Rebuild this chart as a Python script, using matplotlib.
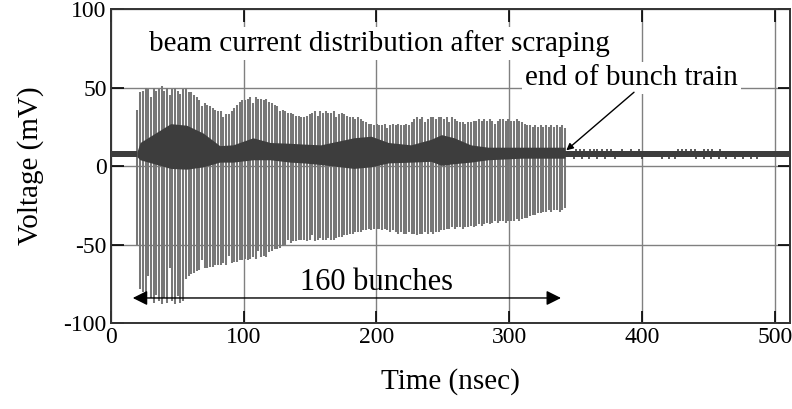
import matplotlib
matplotlib.use('Agg')
import matplotlib.pyplot as plt
import numpy as np

plt.rcParams['font.family'] = ['Liberation Serif', 'DejaVu Serif']
plt.rcParams['axes.unicode_minus'] = False

# bunch train: 160 bunches, first one at 20 ns
n_bunch = 160
t_first = 20.0
t_spacing = 2.025

# peak and trough of each bunch signal (mV)
peak = [36, 47, 48, 50, 49, 44, 50, 48, 49, 51,
        48, 50, 45, 49, 50, 48, 46, 49, 50, 47,
        47, 45, 44, 42, 38, 40, 39, 38, 37, 36,
        35, 35, 31, 33, 33, 35, 37, 39, 41, 42,
        42, 43, 44, 40, 44, 43, 43, 42, 43, 41,
        40, 39, 38, 35, 36, 35, 34, 34, 33, 32,
        32, 31, 31, 32, 33, 34, 35, 32, 35, 34,
        35, 34, 34, 35, 31, 33, 34, 33, 32, 31,
        31, 30, 31, 30, 29, 28, 27, 27, 26, 27,
        26, 26, 27, 24, 26, 27, 26, 27, 26, 26,
        27, 26, 28, 30, 31, 30, 31, 28, 30, 31,
        31, 30, 31, 31, 30, 31, 28, 31, 30, 29,
        28, 28, 27, 28, 28, 29, 29, 30, 29, 30,
        29, 30, 29, 27, 29, 30, 30, 29, 30, 29,
        29, 30, 29, 28, 27, 26, 26, 25, 26, 25,
        26, 25, 26, 25, 26, 25, 26, 25, 26, 24]

trough = [-50, -78, -80, -86, -70, -84, -87, -82, -86, -88,
          -84, -87, -65, -86, -88, -83, -87, -86, -72, -70,
          -69, -68, -67, -66, -60, -65, -65, -64, -64, -63,
          -63, -63, -62, -63, -57, -62, -61, -61, -60, -60,
          -59, -60, -59, -58, -59, -54, -58, -57, -58, -55,
          -54, -53, -53, -52, -51, -50, -47, -49, -48, -48,
          -47, -47, -47, -48, -47, -44, -48, -47, -46, -47,
          -47, -46, -47, -47, -46, -45, -45, -44, -44, -43,
          -43, -42, -42, -42, -41, -41, -40, -41, -40, -40,
          -40, -41, -40, -41, -42, -41, -42, -43, -42, -43,
          -43, -42, -43, -43, -44, -43, -43, -42, -43, -42,
          -43, -42, -42, -41, -41, -40, -40, -39, -40, -39,
          -39, -40, -39, -39, -38, -39, -38, -37, -38, -37,
          -36, -37, -36, -35, -36, -35, -35, -36, -35, -35,
          -35, -34, -35, -34, -33, -33, -32, -31, -31, -30,
          -30, -29, -29, -28, -29, -28, -28, -29, -28, -27]

# dense central band of the trace (time in ns, upper / lower edge in mV)
core_t = [19.6, 22, 45, 57, 69.5, 82, 92, 107, 120, 135, 145, 158,
          183, 196, 209, 226, 241, 249, 258.5, 271, 284, 309, 342]
core_hi = [9, 15, 27, 26, 21, 13, 13.5, 18, 15, 14.5, 14, 13.5,
           18, 19, 15, 13.5, 17, 20, 18, 13.5, 12, 12, 12]
core_lo = [6, 4, -1.5, -2, -0.5, 2.5, 2.5, 4, 4, 2.5, 2, 1,
           -1.5, -0.5, 2, 2.5, 3, 0.5, 1.5, 2.5, 4, 5, 5]

# baseline before and after the train
base_pre = (0, 19.6)
base_post = (342, 511)
base_lo, base_hi = 6.0, 9.6
spike_up_t = [350, 353, 356, 361, 364, 366, 370, 374, 377, 385, 392, 398,
              427, 430, 433, 437, 440, 447, 450, 453, 459]
spike_dn_t = [349, 355, 360, 366, 372, 380, 400, 415, 420, 425,
              441, 447, 452, 458, 463, 470, 476, 482, 487]
spike_up_v = 10.8
spike_dn_v = 4.3

bunch_t = t_first + t_spacing * np.arange(n_bunch)

fig = plt.figure(figsize=(7.92, 4.09), dpi=100)
ax = fig.add_axes([0.140, 0.210, 0.8575, 0.768])

ax.vlines(bunch_t, trough, peak, colors='#777777', lw=1.45, zorder=2)
ax.fill_between(core_t, core_lo, core_hi, color='#3d3d3d', lw=0, zorder=3)
ax.fill_between(base_pre, base_lo, base_hi, color='#3d3d3d', lw=0, zorder=3)
ax.fill_between(base_post, base_lo, base_hi, color='#3d3d3d', lw=0, zorder=3)
ax.vlines(spike_up_t, base_hi - 1, spike_up_v, colors='#3d3d3d', lw=1.2, zorder=3)
ax.vlines(spike_dn_t, spike_dn_v, base_lo + 1, colors='#3d3d3d', lw=1.2, zorder=3)

ax.set_xlim(0, 511.5)
ax.set_ylim(-100, 100)
ax.set_xticks([0, 100, 200, 300, 400, 500])
ax.set_yticks([-100, -50, 0, 50, 100])
ax.grid(True, color='#808080', lw=1.0, zorder=1)
ax.set_axisbelow(True)
ax.tick_params(direction='in', length=9, width=1.2, labelsize=17,
               top=True, right=True, pad=3)
for s in ax.spines.values():
    s.set_linewidth(1.4)
    s.set_color('#333333')

ax.set_xlabel('Time (nsec)', fontsize=21, labelpad=14)
ax.set_ylabel('Voltage (mV)', fontsize=21, labelpad=14)

ax.text(202, 78, 'beam current distribution after scraping', fontsize=21,
        ha='center', va='center', zorder=5,
        bbox=dict(facecolor='white', edgecolor='none', pad=2))
ax.text(392, 56, 'end of bunch train', fontsize=21, ha='center', va='center', zorder=5,
        bbox=dict(facecolor='white', edgecolor='none', pad=2))
ax.annotate('', xy=(343, 10), xytext=(394, 47),
            arrowprops=dict(arrowstyle='-|>', color='black', lw=1.0,
                            mutation_scale=10, shrinkA=0, shrinkB=0), zorder=6)

ax.text(200, -74, '160 bunches', fontsize=22, ha='center', va='center', zorder=5)
ax.annotate('', xy=(16.5, -84), xytext=(339, -84),
            arrowprops=dict(arrowstyle='<|-|>', color='black', lw=1.0,
                            mutation_scale=22, shrinkA=0, shrinkB=0), zorder=6)

fig.savefig('out.png', dpi=100)
